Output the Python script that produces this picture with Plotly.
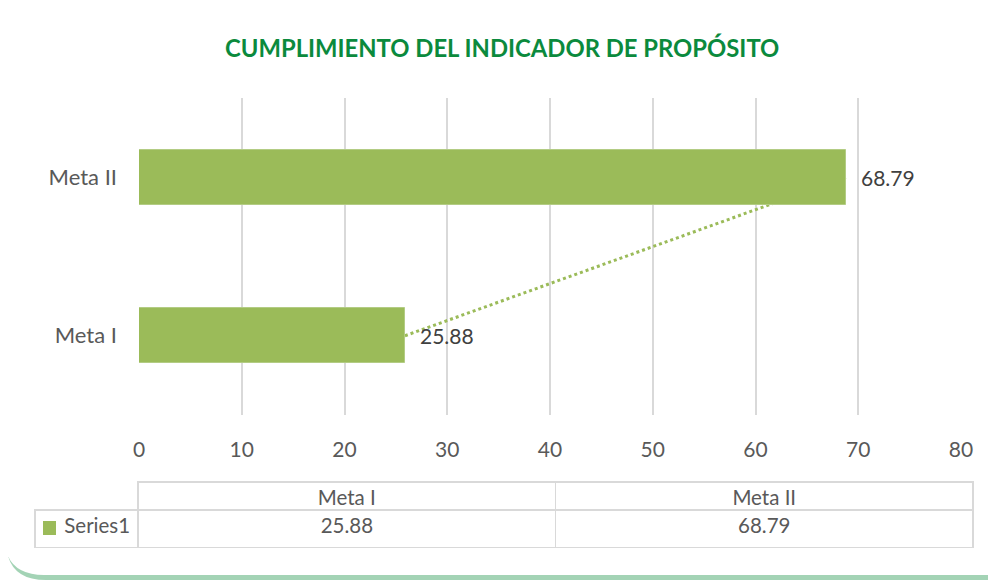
import plotly.graph_objects as go

categories = ["Meta I", "Meta II"]
values = [25.88, 68.79]
series_name = "Series1"
x_ticks = [0, 10, 20, 30, 40, 50, 60, 70, 80]
title_text = "CUMPLIMIENTO DEL INDICADOR DE PROPÓSITO"

OFF = 8  # page body margin
W, H = 996 - OFF, 580 - OFF
BAR = "#9BBB59"
GRID = "#D9D9D9"
TXT = "#595959"
FONT = "Lato"
FS = 20.5

def px(x):
    return (x - OFF) / W

def py(y):
    return 1 - (y - OFF) / H

fig = go.Figure()

fig.add_trace(go.Bar(
    y=categories, x=values, orientation="h", width=0.345,
    marker=dict(color=BAR, line=dict(color="#B3CC84", width=1)),
    showlegend=False, hoverinfo="skip",
))

for c, v in zip(categories, values):
    fig.add_annotation(x=v, y=c, xref="x", yref="y", text=f"{v:.2f}",
                       showarrow=False, xanchor="left", xshift=13,
                       font=dict(family=FONT, size=21, color="#404040"))

# linear trendline between the two points (drawn beneath bars)
fig.add_shape(type="line", xref="x", yref="y",
              x0=values[0], y0=0, x1=values[1], y1=1,
              line=dict(color=BAR, width=3, dash="dot"), layer="between")

# card background
def rrect(x0, y0, x1, y1, r):
    return (f"M{px(x0+r)},{py(y0)} L{px(x1-r)},{py(y0)} "
            f"Q{px(x1)},{py(y0)} {px(x1)},{py(y0+r)} L{px(x1)},{py(y1-r)} "
            f"Q{px(x1)},{py(y1)} {px(x1-r)},{py(y1)} L{px(x0+r)},{py(y1)} "
            f"Q{px(x0)},{py(y1)} {px(x0)},{py(y1-r)} L{px(x0)},{py(y0+r)} "
            f"Q{px(x0)},{py(y0)} {px(x0+r)},{py(y0)} Z")

fig.add_shape(type="path", xref="paper", yref="paper", path=rrect(6, -20, 1030, 580, 40),
              fillcolor="#A3D3B5", line=dict(width=0), layer="below")
fig.add_shape(type="path", xref="paper", yref="paper", path=rrect(4, -24, 1028, 575, 40),
              fillcolor="white", line=dict(width=0), layer="below")

fig.add_annotation(x=px(502), y=py(48), xref="paper", yref="paper", text=f"<b>{title_text}</b>",
                   showarrow=False, yanchor="middle", xanchor="center",
                   font=dict(family=FONT, size=23.8, color="#0B8A3D"))

# data table
fig.add_trace(go.Table(
    domain=dict(x=[px(138), px(973)], y=[py(510), py(482)]),
    columnwidth=[417, 417],
    header=dict(values=categories, height=28, align="center",
                fill=dict(color="white"), line=dict(color=GRID, width=1.5),
                font=dict(family=FONT, size=FS, color=TXT)),
    cells=dict(values=[[], []]),
))
fig.add_trace(go.Table(
    domain=dict(x=[px(35), px(973)], y=[py(548), py(510)]),
    columnwidth=[103, 417, 417],
    header=dict(values=[series_name] + [f"{v:.2f}" for v in values],
                height=38, align=["right", "center", "center"],
                fill=dict(color="white"), line=dict(color=GRID, width=1.5),
                font=dict(family=FONT, size=FS, color=TXT)),
    cells=dict(values=[[], [], []]),
))
# legend key inside the table
fig.add_shape(type="rect", xref="paper", yref="paper",
              x0=px(43), x1=px(56), y0=py(535), y1=py(521),
              fillcolor=BAR, line=dict(width=0), layer="above")

fig.update_layout(
    width=W, height=H, margin=dict(l=0, r=0, t=0, b=0, autoexpand=False),
    paper_bgcolor="white", plot_bgcolor="rgba(0,0,0,0)",
    bargap=0,
    xaxis=dict(domain=[px(139), px(961)], range=[0, 80], tickvals=x_ticks,
               showgrid=True, gridcolor=GRID, gridwidth=1.5, zeroline=False,
               showline=False, ticks="", ticklabelstandoff=20, automargin=False,
               tickfont=dict(family=FONT, size=21, color=TXT)),
    yaxis=dict(domain=[py(415), py(98)], showgrid=False, zeroline=False,
               showline=False, ticks="", ticklabelstandoff=21, automargin=False,
               tickfont=dict(family=FONT, size=22, color=TXT)),
    showlegend=False,
)

fig.write_html("out.html")
